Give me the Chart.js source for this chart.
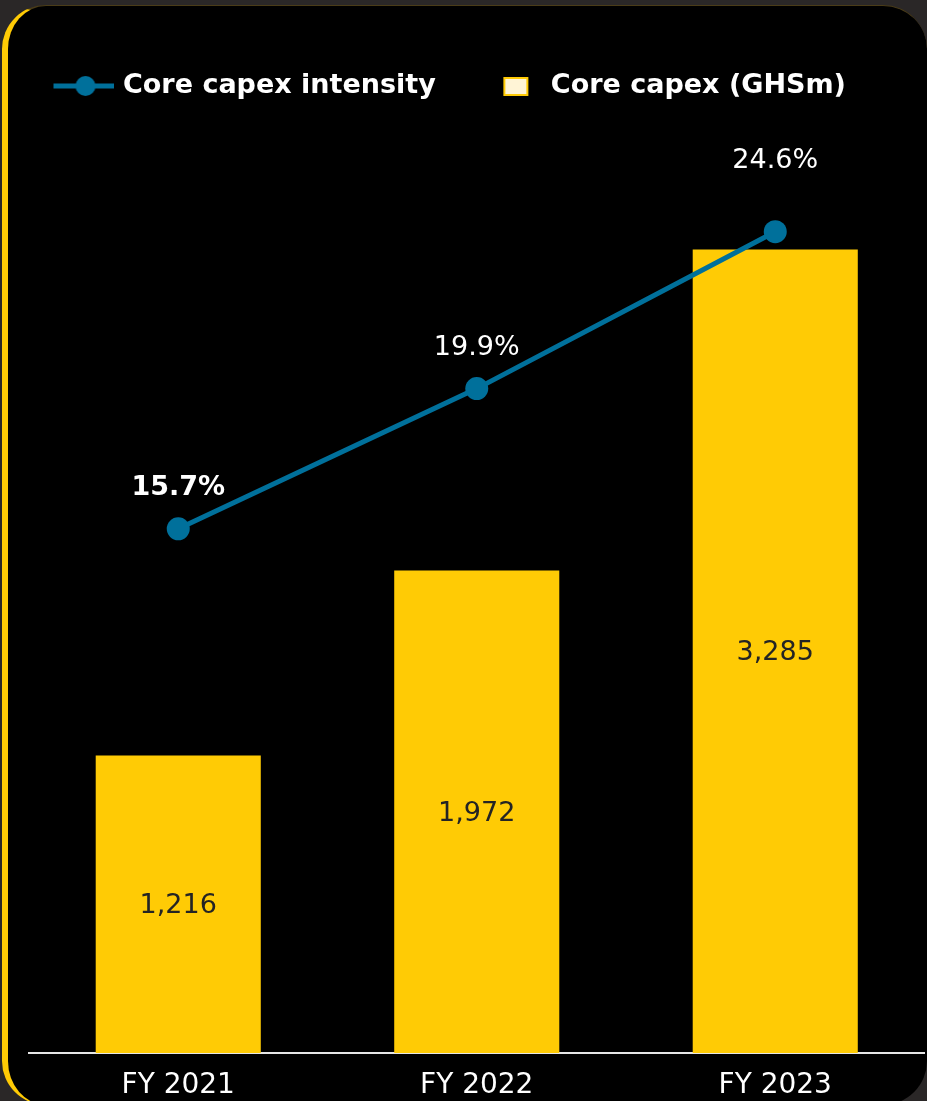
<!DOCTYPE html>
<html>
<head>
<meta charset="utf-8">
<script src="https://cdn.jsdelivr.net/npm/chart.js@4"></script>
<style>
    html, body {
        margin: 0;
        padding: 0;
        width: 927px;
        height: 1101px;
        overflow: hidden;
        background: #2a2727;
    }
    #card {
        position: absolute;
        left: 2px;
        top: 5px;
        width: 925px;
        height: 1100px;
        box-sizing: border-box;
        background: #000;
        border-left: 6px solid #ffcb05;
        border-top: 1px solid #4a3c18;
        border-radius: 44px;
    }
    #chart {
        position: absolute;
        left: 0;
        top: 0;
    }
</style>
</head>
<body>
<div id="card"></div>
<canvas id="chart" width="936" height="1101"></canvas>
<script>
var years = ['FY 2021', 'FY 2022', 'FY 2023'];
var capex = [1216, 1972, 3285];
var intensity = [15.7, 19.9, 24.6];
var seriesNames = ['Core capex intensity', 'Core capex (GHSm)'];

var yellow = '#ffcb05';
var teal = '#00709b';

// little canvases used as legend markers
function lineMarker() {
    var c = document.createElement('canvas');
    c.width = 80;
    c.height = 24;
    var g = c.getContext('2d');
    g.strokeStyle = teal;
    g.lineWidth = 5;
    g.beginPath();
    g.moveTo(20, 12);
    g.lineTo(80, 12);
    g.stroke();
    g.fillStyle = teal;
    g.beginPath();
    g.arc(52, 12, 10, 0, Math.PI * 2);
    g.fill();
    return c;
}

function boxMarker() {
    var c = document.createElement('canvas');
    c.width = 80;
    c.height = 24;
    var g = c.getContext('2d');
    g.fillStyle = yellow;
    g.fillRect(42, 3, 25, 19);
    g.fillStyle = '#fff4d6';
    g.fillRect(44, 5, 21, 15);
    return c;
}

// value labels: percentages above the points, amounts inside the bars
var valueLabels = {
    id: 'valueLabels',
    afterDatasetsDraw: function(chart, args, opts) {
        var ctx = chart.ctx;
        ctx.save();
        ctx.textAlign = 'center';
        ctx.textBaseline = 'middle';

        var lineMeta = chart.getDatasetMeta(0);
        lineMeta.data.forEach(function(pt, i) {
            ctx.font = (i === 0 ? 'bold ' : '') + '27px "DejaVu Sans"';
            ctx.fillStyle = '#fff';
            ctx.fillText(intensity[i].toFixed(1) + '%', pt.x, pt.y - opts.lift[i]);
        });

        var barMeta = chart.getDatasetMeta(1);
        barMeta.data.forEach(function(bar, i) {
            ctx.font = '27px "DejaVu Sans"';
            ctx.fillStyle = '#242424';
            ctx.fillText(capex[i].toLocaleString('en-US'), bar.x, (bar.y + bar.base) / 2 + 2);
        });
        ctx.restore();
    }
};

var config = {
    data: {
        labels: years,
        datasets: [{
            type: 'line',
            label: seriesNames[0],
            data: intensity,
            yAxisID: 'yPct',
            borderColor: teal,
            backgroundColor: teal,
            borderWidth: 5,
            pointRadius: 11.5,
            pointHoverRadius: 11.5,
            pointBackgroundColor: teal,
            pointBorderWidth: 0,
            order: 1
        }, {
            type: 'bar',
            label: seriesNames[1],
            data: capex,
            yAxisID: 'yAmt',
            backgroundColor: yellow,
            borderWidth: 0,
            categoryPercentage: 1,
            barPercentage: 0.553,
            order: 2
        }]
    },
    plugins: [valueLabels],
    options: {
        responsive: false,
        animation: false,
        layout: {
            padding: { top: 43, left: 8, right: 0, bottom: 0 }
        },
        plugins: {
            tooltip: { enabled: false },
            valueLabels: { lift: [41, 41, 71] },
            legend: {
                position: 'top',
                align: 'start',
                labels: {
                    color: '#fff',
                    font: { family: 'DejaVu Sans', weight: 'bold', size: 27 },
                    padding: 29.5,
                    usePointStyle: true,
                    pointStyleWidth: 72,
                    generateLabels: function() {
                        return [
                            { text: seriesNames[0], pointStyle: lineMarker(), fontColor: '#fff', lineWidth: 0, datasetIndex: 0 },
                            { text: seriesNames[1], pointStyle: boxMarker(), fontColor: '#fff', lineWidth: 0, datasetIndex: 1 }
                        ];
                    }
                }
            }
        },
        scales: {
            x: {
                grid: { display: false, drawTicks: false },
                border: { display: true, color: '#e6e6e6', width: 2 },
                ticks: {
                    color: '#fff',
                    padding: 16,
                    font: { family: 'DejaVu Sans', size: 28 }
                },
                afterFit: function(scale) {
                    scale.height = 48;
                }
            },
            yAmt: {
                position: 'left',
                min: 0,
                max: 3857,
                grid: { display: false, drawTicks: false },
                border: { display: false },
                ticks: { display: false },
                afterFit: function(scale) {
                    scale.width = 21;
                }
            },
            yPct: {
                display: false,
                min: 0,
                max: 28.26
            }
        }
    }
};

var ctx = document.getElementById('chart').getContext('2d');
window.capexChart = new Chart(ctx, config);
</script>
</body>
</html>
